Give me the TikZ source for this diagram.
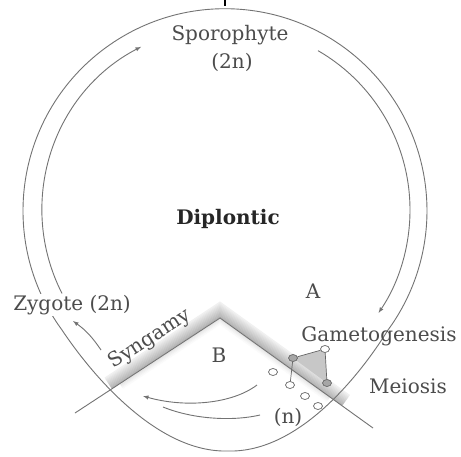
\documentclass[tikz,border=0pt]{standalone}
\usepackage{fontspec}
\setmainfont{DejaVu Serif}
\usetikzlibrary{calc,shapes.geometric}
\tikzset{
  lbl/.style={text=black!70, font=\fontsize{20}{22}\selectfont, inner sep=1pt},
  ring/.style={black!55, line width=.9pt},
  cell/.style={ellipse, draw=black!60, fill=white, line width=.7pt,
    minimum width=9pt, minimum height=7pt, inner sep=0pt},
}
\begin{document}
\begin{tikzpicture}[x=1pt,y=-1pt]
  \useasboundingbox (0,0) rectangle (461,456);
  \fill[white] (0,0) rectangle (461,456);
  \coordinate (c) at (226,210);
  \coordinate (apex) at (220,318);
  \coordinate (vl) at (75,413);
  \coordinate (vr) at (373,428);
  % grey band along the wedge
  \foreach \d in {1,...,13}
    \draw[line width=1.3pt, black!\the\numexpr 32-2*\d\relax]
      ($(112,389)+(-.548*\d,-.836*\d)$) -- ($(apex)+(0,-1.21*\d)$) -- ($(342,406)+(.584*\d,-.812*\d)$);
  \foreach \d in {1,...,5}
    \draw[line width=1.3pt, black!\the\numexpr 12-2*\d\relax]
      ($(120,384)+(.548*\d,.836*\d)$) -- ($(apex)+(0,1.21*\d)$) -- ($(330,397)+(-.584*\d,.812*\d)$);
  % outline
  \draw[ring] (62,330) arc[start angle=143.8, end angle=396.2, radius=202]
    .. controls (362,372) and (300,453) .. (228,451)
    .. controls (156,453) and (90,372) .. (62,330);
  \draw[ring] (vl) -- (apex) -- (vr);
  % cycle arrows
  \draw[ring,-latex] ($(c)+(153:184)$) arc[start angle=153, end angle=242.5, radius=184];
  \draw[ring,-latex] ($(c)+(300:184)$) arc[start angle=300, end angle=394, radius=184];
  \draw[line width=1.5pt] (225,0) -- (225,6);
  % labels
  \node[lbl] (spo) at (230,35) {Sporophyte};
  \node[lbl] (two) at (232,62) {(2n)};
  \node[lbl, text=black!85, font=\fontsize{20}{22}\selectfont\bfseries] (dip) at (228,219) {Diplontic};
  \node[lbl] (a) at (313,291) {A};
  \node[lbl] (b) at (219,355) {B};
  \node[lbl, fill=white] (zyg) at (72,305) {Zygote (2n)};
  \node[lbl, rotate=33] (syn) at (150,339) {Syngamy};
  \node[lbl] (gam) at (379,336) {Gametogenesis};
  \node[lbl] (mei) at (408,386) {Meiosis};
  \node[lbl] (hap) at (288,417) {(n)};
  % syngamy to zygote
  \coordinate (zs) at (101,350);
  \coordinate (zt) at (73,321);
  \draw[ring,-latex] (zs) to[bend right=10] (zt);
  % back to syngamy
  \coordinate (h1) at (257,385);
  \coordinate (h2) at (143,396);
  \coordinate (h3) at (163,407);
  \coordinate (h4) at (260,415);
  \draw[ring,-latex] (h1) .. controls (232,404) and (185,408) .. (h2);
  \draw[ring] (h3) .. controls (195,420) and (235,421) .. (h4);
  % meiosis
  \fill[black!22] (293,358) -- (325,349) -- (327,383) -- cycle;
  \node[cell, fill=black!35] (m1) at (293,358) {};
  \node[cell] (m2) at (325,349) {};
  \node[cell, fill=black!35] (m3) at (327,383) {};
  \node[cell] (g1) at (273,372) {};
  \node[cell] (g2) at (290,385) {};
  \node[cell] (g3) at (305,396) {};
  \node[cell] (g4) at (318,406) {};
  \draw[black!60, line width=.7pt] (m1) -- (m2) -- (m3);
  \draw[black!60, line width=.7pt] (m1) -- (g2);
\end{tikzpicture}
\end{document}
